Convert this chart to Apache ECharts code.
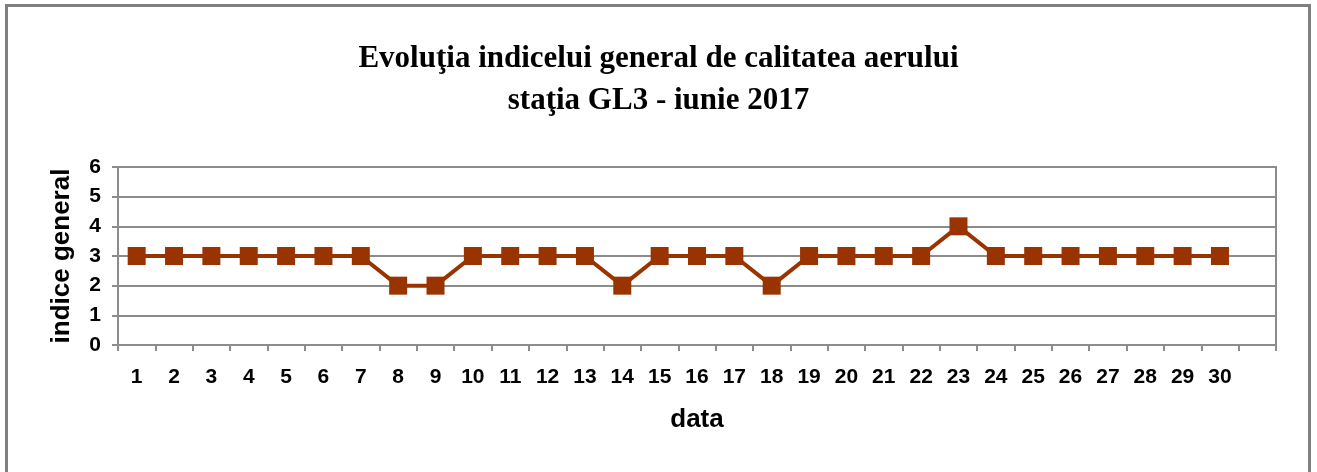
<!DOCTYPE html>
<html>
<head>
<meta charset="utf-8">
<script src="https://cdn.jsdelivr.net/npm/echarts@6/dist/echarts.min.js"></script>
<style>
html,body{margin:0;padding:0;background:#fff;}
#c{width:1317px;height:472px;}
</style>
</head>
<body>
<div id="c"></div>
<script>
var categories = ['1','2','3','4','5','6','7','8','9','10','11','12','13','14','15','16','17','18','19','20','21','22','23','24','25','26','27','28','29','30',''];
var values = [3,3,3,3,3,3,3,2,2,3,3,3,3,2,3,3,3,2,3,3,3,3,4,3,3,3,3,3,3,3];
var titleLines = ['Evoluţia indicelui general de calitatea aerului', 'staţia GL3 - iunie 2017'];

var chart = echarts.init(document.getElementById('c'), null, {renderer: 'canvas'});
chart.setOption({
  backgroundColor: '#ffffff',
  animation: false,
  title: {
    text: titleLines.join('\n'),
    left: 'center',
    top: 33,
    textStyle: {fontFamily: 'Liberation Serif', fontWeight: 'bold', fontSize: 31, color: '#000', lineHeight: 42}
  },
  graphic: [{
    type: 'rect',
    shape: {x: 6.5, y: 5.5, width: 1303, height: 480},
    style: {fill: 'none', stroke: '#808080', lineWidth: 3},
    silent: true
  }],
  grid: {
    left: 118, right: 41, top: 167, bottom: 127,
    show: true, borderColor: '#8c8c8c', borderWidth: 2, backgroundColor: 'transparent'
  },
  xAxis: {
    type: 'category',
    data: categories,
    boundaryGap: true,
    name: 'data',
    nameLocation: 'middle',
    nameGap: 62,
    nameTextStyle: {fontFamily: 'Liberation Sans', fontWeight: 'bold', fontSize: 26, color: '#000'},
    axisLine: {lineStyle: {color: '#8c8c8c', width: 2}},
    axisTick: {show: true, alignWithLabel: false, length: 6, lineStyle: {color: '#8c8c8c', width: 2}},
    axisLabel: {fontFamily: 'Liberation Sans', fontWeight: 'bold', fontSize: 21, color: '#000', margin: 22, interval: 0}
  },
  yAxis: {
    type: 'value',
    min: 0, max: 6, interval: 1,
    name: 'indice general',
    nameLocation: 'middle',
    nameGap: 43,
    nameTextStyle: {fontFamily: 'Liberation Sans', fontWeight: 'bold', fontSize: 26, color: '#000'},
    axisLine: {show: true, lineStyle: {color: '#8c8c8c', width: 2}},
    axisTick: {show: true, length: 6, lineStyle: {color: '#8c8c8c', width: 2}},
    axisLabel: {fontFamily: 'Liberation Sans', fontWeight: 'bold', fontSize: 21, color: '#000', margin: 17},
    splitLine: {show: true, lineStyle: {color: '#8c8c8c', width: 2}}
  },
  series: [{
    type: 'line',
    data: values,
    symbol: 'rect',
    symbolSize: 18,
    itemStyle: {color: '#993300'},
    lineStyle: {color: '#993300', width: 4},
    z: 5
  }]
});
</script>
</body>
</html>
